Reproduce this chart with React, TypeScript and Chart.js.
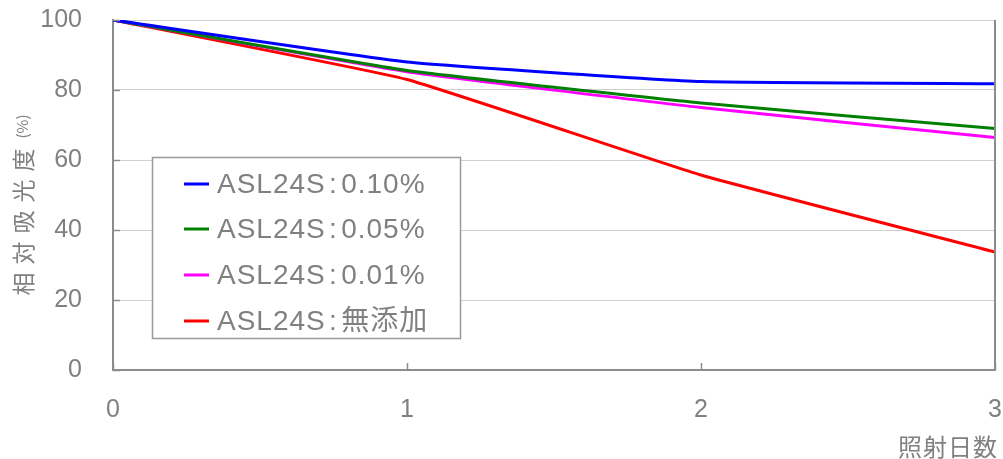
import React, { useEffect, useRef } from "react";
import { Chart, registerables } from "chart.js";
Chart.register(...registerables);

const days = [0, 1, 2, 3];
const seriesLabels = ["ASL24S\u200A:\u200A0.10%", "ASL24S\u200A:\u200A0.05%", "ASL24S\u200A:\u200A0.01%", "ASL24S\u200A:\u200A無添加"];
const s010 = [100, 88.0, 82.4, 81.8];
const s005 = [100, 85.6, 76.3, 69.0];
const s001 = [100, 85.2, 75.0, 66.4];
const sNone = [100, 83.0, 55.7, 33.7];
const seriesColors = ["#0000ff", "#008000", "#ff00ff", "#ff0000"];
const yTicks = [0, 20, 40, 60, 80, 100];
const xTitle = "照射日数";
const yTitleMain = "相対吸光度";
const yTitleUnit = "(%)";

const FONT = "'Liberation Sans', Arial, 'Noto Sans CJK JP', sans-serif";
const CJK = "'Noto Sans CJK JP', sans-serif";
const GRAY = "#808080";

const decorPlugin = {
  id: "decor",
  afterDraw(chart: any) {
    const ctx = chart.ctx;
    const a = chart.chartArea;
    const xs = chart.scales.x;
    const ys = chart.scales.y;
    ctx.save();
    // right border
    ctx.strokeStyle = "#8c8c8c";
    ctx.lineWidth = 2;
    ctx.beginPath();
    ctx.moveTo(a.right, a.top);
    ctx.lineTo(a.right, a.bottom);
    ctx.stroke();
    // tick marks (inside)
    ctx.lineWidth = 1.5;
    for (const v of yTicks) {
      const y = Math.round(ys.getPixelForValue(v)) + 0.5;
      ctx.beginPath();
      ctx.moveTo(a.left, y);
      ctx.lineTo(a.left + 7, y);
      ctx.stroke();
    }
    for (const v of days) {
      const x = Math.round(xs.getPixelForValue(v)) + 0.5;
      ctx.beginPath();
      ctx.moveTo(x, a.bottom);
      ctx.lineTo(x, a.bottom - 7);
      ctx.stroke();
    }
    // x title
    ctx.fillStyle = GRAY;
    ctx.font = `24px ${CJK}`;
    ctx.textAlign = "right";
    ctx.textBaseline = "middle";
    (ctx as any).letterSpacing = "1px";
    ctx.fillText(xTitle, 998, 447);
    // y title
    ctx.save();
    ctx.translate(23, 205);
    ctx.rotate(-Math.PI / 2);
    (ctx as any).letterSpacing = "8px";
    ctx.font = `23px ${CJK}`;
    const w1 = ctx.measureText(yTitleMain).width;
    (ctx as any).letterSpacing = "0px";
    ctx.font = `15px ${CJK}`;
    const w2 = ctx.measureText(yTitleUnit).width;
    const gap = 2;
    const total = w1 + gap + w2;
    ctx.textAlign = "left";
    (ctx as any).letterSpacing = "8px";
    ctx.font = `23px ${CJK}`;
    ctx.fillText(yTitleMain, -total / 2, 0);
    (ctx as any).letterSpacing = "0px";
    ctx.font = `15px ${CJK}`;
    ctx.fillText(yTitleUnit, -total / 2 + w1 + gap, -1);
    ctx.restore();
    // legend box
    const bx = 152, by = 157, bw = 308, bh = 181;
    ctx.fillStyle = "#ffffff";
    ctx.fillRect(bx, by, bw, bh);
    ctx.strokeStyle = "#999999";
    ctx.lineWidth = 1.5;
    ctx.strokeRect(bx + 0.5, by + 0.5, bw, bh);
    const rowY = [184, 229, 275, 321];
    chart.data.datasets.forEach((ds: any, i: number) => {
      const y = rowY[i];
      ctx.strokeStyle = ds.borderColor;
      ctx.lineWidth = 3;
      ctx.beginPath();
      ctx.moveTo(184, y);
      ctx.lineTo(209, y);
      ctx.stroke();
      ctx.fillStyle = GRAY;
      ctx.font = `28px ${FONT}`;
      ctx.textAlign = "left";
      ctx.textBaseline = "middle";
      ctx.fillText(ds.label, 217, y + 1);
    });
    ctx.restore();
  },
};

export default function App() {
  const ref = useRef<HTMLCanvasElement>(null);
  useEffect(() => {
    if (!ref.current) return;
    const all = [s010, s005, s001, sNone];
    const chart = new Chart(ref.current, {
      type: "line",
      data: {
        datasets: all.map((vals, i) => ({
          label: seriesLabels[i],
          data: days.map((d, j) => ({ x: d, y: vals[j] })),
          borderColor: seriesColors[i],
          backgroundColor: seriesColors[i],
          borderWidth: 3,
          pointRadius: 0,
          tension: 0.12,
          fill: false,
        })),
      },
      options: {
        animation: false,
        responsive: false,
        maintainAspectRatio: false,
        layout: { padding: { left: 0, right: 8, top: 20, bottom: 0 } },
        plugins: { legend: { display: false }, tooltip: { enabled: false } },
        scales: {
          x: {
            type: "linear",
            min: 0,
            max: 3,
            afterFit: (s: any) => {
              s.height = 89;
              s.paddingLeft = 0;
              s.paddingRight = 0;
            },
            grid: { display: false, drawTicks: false },
            border: { display: true, color: "#8c8c8c", width: 2 },
            ticks: {
              stepSize: 1,
              padding: 25,
              color: GRAY,
              font: { family: FONT, size: 25 },
              callback: (v: any) => String(v),
            },
          },
          y: {
            min: 0,
            max: 100,
            afterFit: (s: any) => {
              s.width = 113;
              s.paddingTop = 0;
              s.paddingBottom = 0;
            },
            grid: { color: "#d0d0d0", lineWidth: 1, drawTicks: false },
            border: { display: true, color: "#8c8c8c", width: 2 },
            ticks: {
              stepSize: 20,
              padding: 31,
              color: GRAY,
              font: { family: FONT, size: 25 },
            },
          },
        },
      },
      plugins: [decorPlugin],
    } as any);
    return () => chart.destroy();
  }, []);
  return (
    <div style={{ position: "absolute", left: 0, top: 0, width: 1003, height: 459 }}>
      <canvas ref={ref} width={1003} height={459} style={{ width: 1003, height: 459 }} />
    </div>
  );
}
